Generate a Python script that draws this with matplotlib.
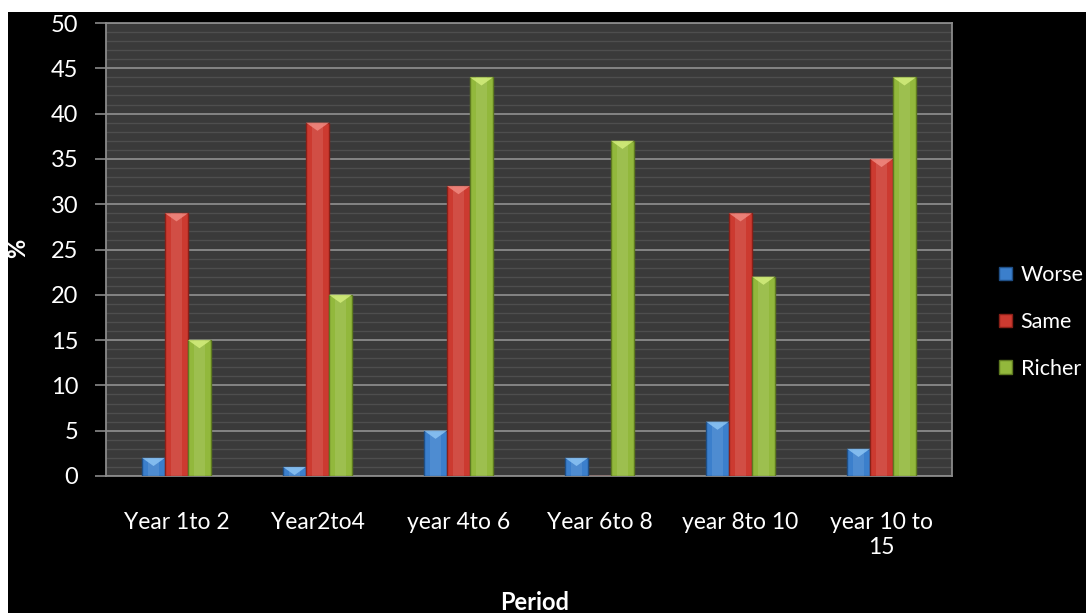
import matplotlib
matplotlib.use("Agg")
import matplotlib.pyplot as plt
import numpy as np
from matplotlib.patches import Rectangle, Patch

periods = ["Year 1to 2", "Year2to4", "year 4to 6", "Year 6to 8", "year 8to 10", "year 10 to\n15"]
worse = [2, 1, 5, 2, 6, 3]
same = [29, 39, 32, 0, 29, 35]
richer = [15, 20, 44, 37, 22, 44]

series_names = ["Worse", "Same", "Richer"]
colors = ["#3b7fcc", "#cc3a30", "#92b83c"]
edges = ["#1f4f86", "#8a2018", "#5e7a20"]
caps = ["#8cc4f4", "#f08a80", "#d4ee7c"]

plt.rcParams["font.family"] = ["Lato", "DejaVu Sans"]

fig = plt.figure(figsize=(10.86, 6.13), dpi=100)
fig.patch.set_facecolor("white")
# black slide background with a small white margin at top and left
fig.patches.append(Rectangle((8 / 1086, 0), 1, 1 - 12 / 613, transform=fig.transFigure,
                             facecolor="black", edgecolor="none", zorder=-10))

ax = fig.add_axes([106 / 1086, 137 / 613, 846 / 1086, 453 / 613])
ax.set_facecolor("#3a3a3a")

x = np.arange(len(periods))
w = 0.163
for i, (vals, c, e, cap) in enumerate(zip([worse, same, richer], colors, edges, caps)):
    pos = x + (i - 1) * w
    ax.bar(pos, vals, width=w, color=c, edgecolor=e, linewidth=1.0, zorder=3)
    # glossy centre stripe
    ax.bar(pos, vals, width=w * 0.45, color="white", alpha=0.10, linewidth=0, zorder=4)
    # bevel cap at the top of each bar
    for p, v in zip(pos, vals):
        if v > 0:
            h = min(0.9, v)
            ax.fill([p - w / 2, p + w / 2, p], [v, v, v - h], color=cap, alpha=0.85,
                    linewidth=0, zorder=5)

ax.set_xlim(-0.5, len(periods) - 0.5)
ax.set_ylim(0, 50)
ax.set_yticks(np.arange(0, 51, 5))
ax.set_yticks(np.arange(0, 51, 1), minor=True)
ax.grid(axis="y", which="major", color="#8a8a8a", linewidth=1.3, zorder=1)
ax.grid(axis="y", which="minor", color="#4e4e4e", linewidth=1.0, zorder=1)
ax.set_axisbelow(True)
ax.set_xticks(x)
ax.set_xticklabels(periods)

ax.tick_params(axis="y", which="major", colors="#8a8a8a", length=8, width=1.2,
               labelcolor="white", labelsize=17, pad=12)
ax.tick_params(axis="y", which="minor", length=0)
ax.tick_params(axis="x", length=0, labelcolor="white", labelsize=16.5, pad=26)

for s in ["left", "bottom", "right", "top"]:
    ax.spines[s].set_color("#8a8a8a")
    ax.spines[s].set_linewidth(1.3)

fig.text(18 / 1086, 1 - 248 / 613, "%", color="white", fontsize=17, fontweight="bold",
         rotation=90, ha="center", va="center")
fig.text(535 / 1086, 1 - 603 / 613, "Period", color="white", fontsize=17,
         fontweight="bold", ha="center", va="center")

handles = [Patch(facecolor=c, edgecolor=e) for c, e in zip(colors, edges)]
leg = fig.legend(handles, series_names, loc="center left", bbox_to_anchor=(984 / 1086, 1 - 322 / 613),
                 frameon=False, fontsize=15.5, labelcolor="white", handlelength=0.6,
                 handleheight=0.6, handletextpad=0.4, labelspacing=1.25, borderpad=0.2)

fig.savefig("out.png", dpi=100)
